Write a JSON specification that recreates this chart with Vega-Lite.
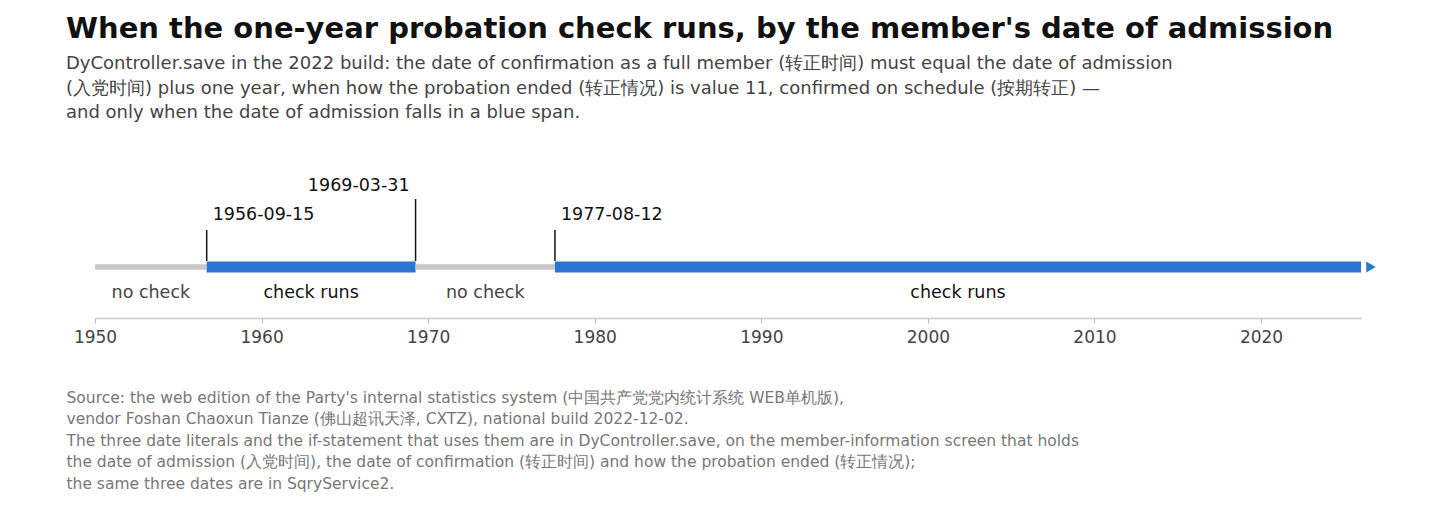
{
  "$schema": "https://vega.github.io/schema/vega-lite/v6.json",
  "description": "Date-of-admission spans in which the one-year probation check runs",
  "autosize": {"type": "none"},
  "width": 1266,
  "height": 143,
  "padding": {"left": 95, "top": 175, "right": 95, "bottom": 192},
  "background": "white",
  "config": {
    "view": {"stroke": null},
    "font": "DejaVu Sans",
    "text": {"font": "DejaVu Sans"}
  },
  "title": {
    "text": "When the one-year probation check runs, by the member's date of admission",
    "subtitle": [
      "DyController.save in the 2022 build: the date of confirmation as a full member (转正时间) must equal the date of admission",
      "(入党时间) plus one year, when how the probation ended (转正情况) is value 11, confirmed on schedule (按期转正) —",
      "and only when the date of admission falls in a blue span."
    ],
    "anchor": "start",
    "frame": "group",
    "dx": -29,
    "offset": 53,
    "font": "DejaVu Sans",
    "fontSize": 29,
    "fontWeight": "bold",
    "color": "#111111",
    "subtitleFont": "DejaVu Sans",
    "subtitleFontSize": 18,
    "subtitleColor": "#444444",
    "subtitleLineHeight": 24.5,
    "subtitlePadding": 11
  },
  "datasets": {
    "spans": [
      {"start": "1950-01-01", "end": "1956-09-15", "status": "no check"},
      {"start": "1956-09-15", "end": "1969-03-31", "status": "check runs"},
      {"start": "1969-03-31", "end": "1977-08-12", "status": "no check"},
      {"start": "1977-08-12", "end": "2026-01-01", "status": "check runs"}
    ],
    "cutoffs": [
      {"date": "1956-09-15", "tier": 1},
      {"date": "1969-03-31", "tier": 2},
      {"date": "1977-08-12", "tier": 1}
    ]
  },
  "encoding": {
    "x": {
      "type": "temporal",
      "scale": {"domain": ["1950-01-01", "2026-01-01"]},
      "axis": {
        "format": "%Y",
        "values": ["1950-01-01", "1960-01-01", "1970-01-01", "1980-01-01", "1990-01-01", "2000-01-01", "2010-01-01", "2020-01-01"],
        "grid": false,
        "domainColor": "#c8c8c8",
        "domainWidth": 1.5,
        "tickColor": "#bbbbbb",
        "tickSize": 5,
        "labelFont": "DejaVu Sans",
        "labelFontSize": 17,
        "labelColor": "#444444",
        "labelPadding": 6,
        "labelFlush": false,
        "title": [
          "Source: the web edition of the Party's internal statistics system (中国共产党党内统计系统 WEB单机版),",
          "vendor Foshan Chaoxun Tianze (佛山超讯天泽, CXTZ), national build 2022-12-02.",
          "The three date literals and the if-statement that uses them are in DyController.save, on the member-information screen that holds",
          "the date of admission (入党时间), the date of confirmation (转正时间) and how the probation ended (转正情况);",
          "the same three dates are in SqryService2."
        ],
        "titleFont": "DejaVu Sans",
        "titleFontSize": 15.5,
        "titleFontWeight": "normal",
        "titleColor": "#777777",
        "titleAnchor": "start",
        "titleAlign": "left",
        "titleBaseline": "top",
        "titleLineHeight": 21.5,
        "titleX": -29,
        "titleY": 72
      }
    },
    "y": {
      "type": "quantitative",
      "scale": {"domain": [-51, 92]},
      "axis": null
    }
  },
  "layer": [
    {
      "data": {"name": "spans"},
      "mark": {"type": "rule", "strokeCap": "butt"},
      "encoding": {
        "x": {"field": "start", "type": "temporal"},
        "x2": {"field": "end"},
        "y": {"datum": 0},
        "color": {
          "field": "status",
          "type": "nominal",
          "scale": {"domain": ["no check", "check runs"], "range": ["#c8c8c8", "#2a74d2"]},
          "legend": null
        },
        "strokeWidth": {
          "field": "status",
          "type": "nominal",
          "scale": {"domain": ["no check", "check runs"], "range": [5.5, 11]},
          "legend": null
        }
      }
    },
    {
      "data": {"name": "spans"},
      "transform": [{"filter": "utcyear(datum.end) >= 2026"}],
      "mark": {"type": "point", "shape": "triangle-right", "filled": true, "size": 120, "xOffset": 10, "color": "#2a74d2", "opacity": 1},
      "encoding": {
        "x": {"field": "end", "type": "temporal"},
        "y": {"datum": 0}
      }
    },
    {
      "data": {"name": "spans"},
      "transform": [{"calculate": "(toDate(datum.start) + toDate(datum.end)) / 2", "as": "mid"}],
      "mark": {"type": "text", "font": "DejaVu Sans", "fontSize": 17.5, "baseline": "middle", "align": "center"},
      "encoding": {
        "x": {"field": "mid", "type": "temporal"},
        "y": {"datum": -26},
        "text": {"field": "status", "type": "nominal"},
        "fill": {
          "field": "status",
          "type": "nominal",
          "scale": {"domain": ["no check", "check runs"], "range": ["#444444", "#111111"]},
          "legend": null
        }
      }
    },
    {
      "data": {"name": "cutoffs"},
      "transform": [{"filter": "datum.tier == 1"}],
      "layer": [
        {
          "mark": {"type": "rule", "color": "#111111", "strokeWidth": 1.5},
          "encoding": {
            "x": {"field": "date", "type": "temporal"},
            "y": {"datum": 6},
            "y2": {"datum": 37}
          }
        },
        {
          "mark": {"type": "text", "font": "DejaVu Sans", "fontSize": 17.5, "align": "left", "baseline": "middle", "dx": 6, "color": "#111111"},
          "encoding": {
            "x": {"field": "date", "type": "temporal"},
            "y": {"datum": 52},
            "text": {"field": "date", "type": "temporal", "timeUnit": "utcyearmonthdate", "format": "%Y-%m-%d"}
          }
        }
      ]
    },
    {
      "data": {"name": "cutoffs"},
      "transform": [{"filter": "datum.tier == 2"}],
      "layer": [
        {
          "mark": {"type": "rule", "color": "#111111", "strokeWidth": 1.5},
          "encoding": {
            "x": {"field": "date", "type": "temporal"},
            "y": {"datum": 6},
            "y2": {"datum": 68}
          }
        },
        {
          "mark": {"type": "text", "font": "DejaVu Sans", "fontSize": 17.5, "align": "right", "baseline": "middle", "dx": -6, "color": "#111111"},
          "encoding": {
            "x": {"field": "date", "type": "temporal"},
            "y": {"datum": 81},
            "text": {"field": "date", "type": "temporal", "timeUnit": "utcyearmonthdate", "format": "%Y-%m-%d"}
          }
        }
      ]
    }
  ]
}
